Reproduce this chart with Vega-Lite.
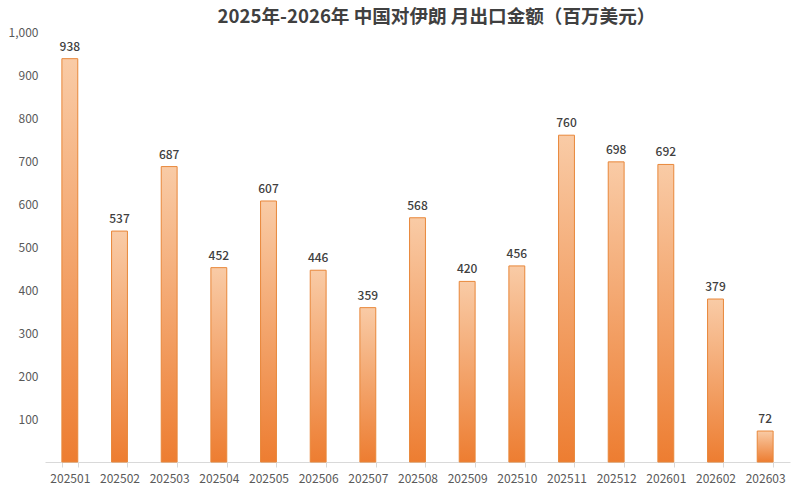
{
  "$schema": "https://vega.github.io/schema/vega-lite/v6.json",
  "width": 745,
  "height": 430,
  "autosize": "none",
  "padding": {"left": 45, "top": 32, "right": 10, "bottom": 26},
  "background": "white",
  "title": {
    "text": "2025年-2026年 中国对伊朗 月出口金额（百万美元）",
    "font": "Noto Sans CJK SC",
    "fontSize": 18.6,
    "fontWeight": "bold",
    "color": "#404040",
    "anchor": "middle",
    "dx": 19,
    "offset": -1
  },
  "config": {
    "view": {"stroke": null},
    "font": "Noto Sans CJK SC"
  },
  "data": {
    "values": [
      {"month": "202501", "value": 938},
      {"month": "202502", "value": 537},
      {"month": "202503", "value": 687},
      {"month": "202504", "value": 452},
      {"month": "202505", "value": 607},
      {"month": "202506", "value": 446},
      {"month": "202507", "value": 359},
      {"month": "202508", "value": 568},
      {"month": "202509", "value": 420},
      {"month": "202510", "value": 456},
      {"month": "202511", "value": 760},
      {"month": "202512", "value": 698},
      {"month": "202601", "value": 692},
      {"month": "202602", "value": 379},
      {"month": "202603", "value": 72}
    ]
  },
  "encoding": {
    "x": {
      "field": "month",
      "type": "nominal",
      "sort": null,
      "title": null,
      "scale": {"paddingInner": 0.68, "paddingOuter": 0.34},
      "axis": {
        "labelAngle": 0,
        "labelFontSize": 12,
        "labelColor": "#595959",
        "labelPadding": 6,
        "domainColor": "#d9d9d9",
        "tickColor": "#d9d9d9",
        "tickSize": 5,
        "tickBand": "extent"
      }
    },
    "y": {
      "field": "value",
      "type": "quantitative",
      "title": null,
      "scale": {"domain": [0, 1000]},
      "axis": {
        "values": [100, 200, 300, 400, 500, 600, 700, 800, 900, 1000],
        "format": ",d",
        "grid": false,
        "domain": false,
        "ticks": false,
        "labelFontSize": 12,
        "labelColor": "#595959",
        "labelPadding": 7
      }
    }
  },
  "layer": [
    {
      "mark": {
        "type": "bar",
        "stroke": "#e8873a",
        "strokeWidth": 1,
        "color": {
          "gradient": "linear",
          "x1": 0, "y1": 0, "x2": 0, "y2": 1,
          "stops": [
            {"offset": 0, "color": "#f9cba6"},
            {"offset": 1, "color": "#ed7d31"}
          ]
        }
      }
    },
    {
      "mark": {
        "type": "text",
        "dy": -12,
        "fontSize": 12,
        "fontWeight": 500,
        "color": "#404040"
      },
      "encoding": {"text": {"field": "value", "type": "quantitative"}}
    }
  ]
}
